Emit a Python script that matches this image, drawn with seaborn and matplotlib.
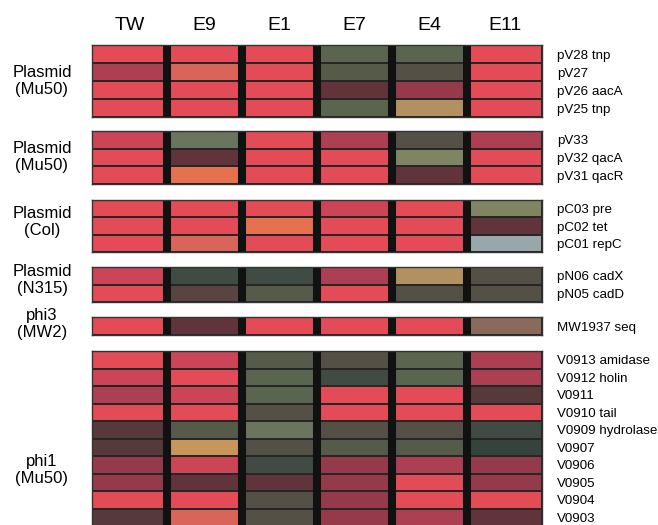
#!/usr/bin/env python3
"""Microarray-style heatmap of plasmid and phage genes across strains."""

import matplotlib as mpl
import matplotlib.pyplot as plt
import pandas as pd
import seaborn as sns
from matplotlib.colors import ListedColormap

mpl.use('Agg')
sns.set_style("white")
plt.rcParams['font.family'] = ['Liberation Sans', 'DejaVu Sans']
plt.rcParams['text.color'] = "black"
plt.rcParams['xtick.color'] = "black"
plt.rcParams['ytick.color'] = "black"

STRAINS = ["TW", "E9", "E1", "E7", "E4", "E11"]

# Scanned colour levels, keyed by a short code
PALETTE = {
    "R0": "#e34c57", "R1": "#cb4557", "R2": "#ad3f52", "R3": "#953a4b",
    "R4": "#60343a", "R5": "#563a3b", "G0": "#59654f", "G1": "#555a49",
    "G2": "#3f4b43", "G3": "#7f8462", "G4": "#545045", "G5": "#6b745d",
    "G6": "#34443c", "T": "#b3905f", "O": "#e5714f", "S": "#d9645a",
    "Y": "#c8955a", "B": "#98a8aa", "M": "#8a6a5b", "N": "#5a4441",
}

GROUPS = ["Plasmid\n(Mu50)", "Plasmid\n(Mu50)", "Plasmid\n(Col)",
          "Plasmid\n(N315)", "phi3\n(MW2)", "phi1\n(Mu50)"]

GENES_1 = ["pV28 tnp", "pV27", "pV26 aacA", "pV25 tnp"]
LEVELS_1 = [["R0", "R0", "R0", "G0", "G0", "R0"],
            ["R2", "S", "R0", "G1", "G4", "R0"],
            ["R0", "R0", "R0", "R4", "R3", "R0"],
            ["R0", "R0", "R0", "G0", "T", "R0"]]

GENES_2 = ["pV33", "pV32 qacA", "pV31 qacR"]
LEVELS_2 = [["R1", "G5", "R0", "R2", "G4", "R2"],
            ["R0", "R4", "R0", "R0", "G3", "R0"],
            ["R0", "O", "R0", "R0", "R4", "R0"]]

GENES_3 = ["pC03 pre", "pC02 tet", "pC01 repC"]
LEVELS_3 = [["R0", "R0", "R0", "R1", "R0", "G3"],
            ["R0", "R0", "O", "R0", "R0", "R4"],
            ["R0", "S", "R0", "R0", "R0", "B"]]

GENES_4 = ["pN06 cadX", "pN05 cadD"]
LEVELS_4 = [["R1", "G2", "G2", "R2", "T", "G4"],
            ["R0", "N", "G1", "R0", "G4", "G4"]]

GENES_5 = ["MW1937 seq"]
LEVELS_5 = [["R0", "R4", "R0", "R0", "R0", "M"]]

GENES_6 = ["V0913 amidase", "V0912 holin", "V0911", "V0910 tail",
           "V0909 hydrolase", "V0907", "V0906", "V0905", "V0904", "V0903"]
LEVELS_6 = [["R0", "R1", "G1", "G4", "G0", "R2"],
            ["R1", "R0", "G0", "G2", "G0", "R2"],
            ["R2", "R1", "G0", "R0", "R0", "R5"],
            ["R0", "R0", "G4", "R0", "R0", "R0"],
            ["R5", "G1", "G5", "G4", "G4", "G2"],
            ["R5", "Y", "G4", "G1", "G1", "G6"],
            ["R3", "R1", "G2", "R3", "R2", "R3"],
            ["R3", "R4", "R4", "R3", "R0", "R3"],
            ["R0", "R0", "G4", "R3", "R0", "R0"],
            ["R5", "S", "G4", "R3", "R2", "R4"]]

W, H = 658, 525
# block extents in pixels (top, bottom) and where the side label sits
BLOCKS = [(45, 117, 81), (131, 184, 157), (200, 252, 222),
          (267, 302, 280), (317, 335, 324), (351, 526, 470)]
X0, X1 = 92, 542


def draw_block(fig, genes, levels, top, bottom, show_cols):
    keys = list(PALETTE)
    cmap = ListedColormap([PALETTE[k] for k in keys])
    codes = pd.DataFrame([[keys.index(v) for v in row] for row in levels],
                         index=genes, columns=STRAINS)
    ax = fig.add_axes([X0 / W, 1 - bottom / H, (X1 - X0) / W,
                       (bottom - top) / H])
    sns.heatmap(codes, ax=ax, cmap=cmap, vmin=-0.5, vmax=len(keys) - 0.5,
                cbar=False, linewidths=1.1, linecolor="#262626",
                xticklabels=True, yticklabels=True)
    for x in range(1, len(STRAINS)):
        ax.axvline(x, color="#111111", lw=5.8)
    for s in ax.spines.values():
        s.set_visible(True)
        s.set_color("#333333")
        s.set_linewidth(1.0)
    ax.yaxis.tick_right()
    ax.set_yticklabels(genes, rotation=0, fontsize=9.6)
    ax.tick_params(axis="y", length=0, pad=11)
    ax.set_xlabel("")
    ax.set_ylabel("")
    if show_cols:
        ax.xaxis.tick_top()
        ax.set_xticklabels(STRAINS, fontsize=14, rotation=0)
        ax.tick_params(axis="x", length=0, pad=8)
    else:
        ax.set_xticks([])
    return ax


def main():
    fig = plt.figure(figsize=(W / 100, H / 100), dpi=100)
    genes = [GENES_1, GENES_2, GENES_3, GENES_4, GENES_5, GENES_6]
    levels = [LEVELS_1, LEVELS_2, LEVELS_3, LEVELS_4, LEVELS_5, LEVELS_6]
    for i, (g, lv, (top, bottom, ly)) in enumerate(zip(genes, levels, BLOCKS)):
        draw_block(fig, g, lv, top, bottom, show_cols=(i == 0))
        fig.text(42 / W, 1 - ly / H, GROUPS[i], ha="center", va="center",
                 fontsize=12, linespacing=1.2)
    fig.savefig("out.png", dpi=100)
    plt.close(fig)


if __name__ == '__main__':
    main()
